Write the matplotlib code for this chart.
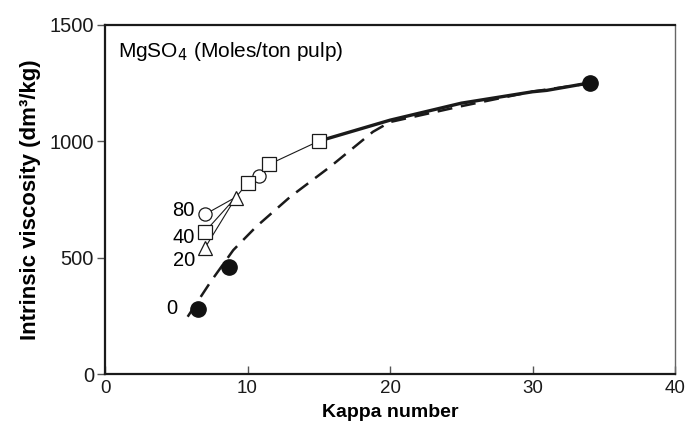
'''
Intrinsic viscosity vs kappa number for different MgSO4 charges
'''
import numpy as np
import matplotlib.pyplot as plt

plt.rcParams['font.family'] = ['Liberation Sans', 'DejaVu Sans']

# data
# no MgSO4 (filled circles) and its fitted dashed curve
kappa_0 = [6.5, 8.7, 34]
visc_0 = [280, 460, 1250]
fit_kappa = [5.8, 7.4, 9.0, 10.6, 13.0, 15.8, 18.8, 20, 25, 30, 34]
fit_visc = [246, 395, 532, 632, 761, 890, 1040, 1082, 1150, 1213, 1248]

# MgSO4 charges, moles/ton pulp
kappa_80 = [7.0, 10.8]
visc_80 = [685, 850]
kappa_40 = [7.0, 10.0, 11.5, 15.0]
visc_40 = [610, 820, 900, 1000]
kappa_20 = [7.0, 9.2]
visc_20 = [540, 755]

# thin line joining the charged runs
trunk_kappa = [9.2, 10.0, 10.8, 11.5, 15.0]
trunk_visc = [760, 820, 850, 900, 1000]

# thick solid curve continuing to the end point
cont_kappa = [15, 20, 25, 30, 31, 34]
cont_visc = [1000, 1090, 1163, 1212, 1218, 1250]

labels = ["80", "40", "20", "0"]
label_kappa = [6.3, 6.3, 6.3, 5.1]
label_visc = [704, 588, 489, 283]

fig, ax = plt.subplots(figsize=(6.85, 4.38), dpi=100)
fig.subplots_adjust(left=0.1533, right=0.9854, bottom=0.1461, top=0.9436)

# dashed fit
ax.plot(fit_kappa, fit_visc, color="#1a1a1a", lw=1.8, dashes=(6, 3.5), zorder=2)
# thick continuation
ax.plot(cont_kappa, cont_visc, color="#1a1a1a", lw=2.4, zorder=3)

# thin connecting lines
for kx, vy in ((kappa_80, visc_80), (kappa_40, visc_40), (kappa_20, visc_20)):
    ax.plot([kx[0], trunk_kappa[0]], [vy[0], trunk_visc[0]], color="#1a1a1a", lw=0.8, zorder=3)
ax.plot(trunk_kappa, trunk_visc, color="#1a1a1a", lw=0.8, zorder=3)

mk = dict(linestyle="none", mfc="white", mec="#1a1a1a", mew=0.9, ms=9.5, zorder=4)
ax.plot(kappa_80, visc_80, marker="o", **mk)
ax.plot(kappa_40, visc_40, marker="s", **mk)
ax.plot(kappa_20, visc_20, marker="^", **mk)
ax.plot(kappa_0, visc_0, marker="o", linestyle="none", color="#111111", ms=11, zorder=5)

for lab, kx, v in zip(labels, label_kappa, label_visc):
    ax.text(kx, v, lab, ha="right", va="center", fontsize=14.5)

ax.text(0.023, 0.955, "MgSO$_4$ (Moles/ton pulp)", transform=ax.transAxes,
        ha="left", va="top", fontsize=15)

ax.set_xlim(0, 40)
ax.set_ylim(0, 1500)
ax.set_xticks([0, 10, 20, 30, 40])
ax.set_yticks([0, 500, 1000, 1500])
ax.tick_params(axis="both", labelsize=14.5, colors="#555555", labelcolor="#1a1a1a", width=1, length=6)
ax.tick_params(axis="x", direction="in", pad=4, labelsize=13.5)
ax.tick_params(axis="y", direction="out", pad=2)

for side in ("left", "bottom", "top"):
    ax.spines[side].set_linewidth(1.6)
    ax.spines[side].set_color("#1a1a1a")
ax.spines["right"].set_linewidth(1.0)
ax.spines["right"].set_color("#666666")

ax.set_xlabel("Kappa number", fontsize=14, fontweight="bold", labelpad=5)
ax.set_ylabel("Intrinsic viscosity (dm³/kg)", fontsize=16, fontweight="bold", labelpad=6)

fig.savefig("out.png")
